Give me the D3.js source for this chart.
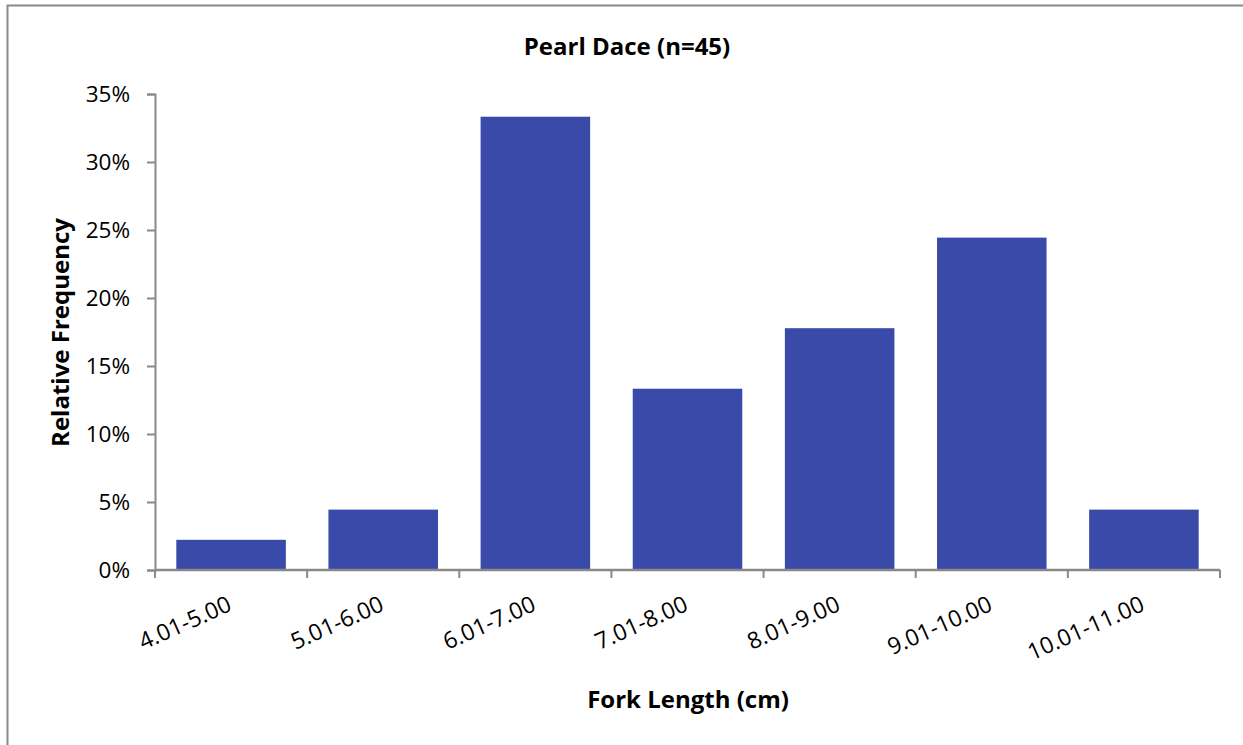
<!DOCTYPE html>
<html>
<head>
<meta charset="utf-8">
<script src="https://cdn.jsdelivr.net/npm/d3@7"></script>
<style>
  html, body { margin: 0; padding: 0; background: #fff; }
  svg { display: block; font-family: "Open Sans", "Noto Sans", sans-serif; }
</style>
</head>
<body>
<svg id="chart" width="1243" height="745"></svg>
<script>
// Fork length classes (cm) and relative frequency (%) of Pearl Dace, n = 45
const categories = ["4.01-5.00", "5.01-6.00", "6.01-7.00", "7.01-8.00", "8.01-9.00", "9.01-10.00", "10.01-11.00"];
const frequency = [2.22, 4.44, 33.33, 13.33, 17.78, 24.44, 4.44];
const yTicks = [0, 5, 10, 15, 20, 25, 30, 35];

const svg = d3.select("#chart");
const W = 1243, H = 745;
const margin = { left: 155, right: 23, top: 94, bottom: 175 };
const x0 = margin.left, x1 = W - margin.right;
const yTop = margin.top, yBot = H - margin.bottom;
const FONT = "'Open Sans', 'Noto Sans', sans-serif";

// outer frame of the chart area
svg.append("path")
  .attr("d", `M7.5,${H} V5.5 H${W}`)
  .attr("fill", "none")
  .attr("stroke", "#898989")
  .attr("stroke-width", 2);

const x = d3.scaleBand()
  .domain(categories)
  .range([x0, x1])
  .paddingInner(0.28)
  .paddingOuter(0.14);

const y = d3.scaleLinear()
  .domain([0, 35])
  .range([yBot, yTop]);

// bars
svg.append("g")
  .selectAll("rect")
  .data(categories)
  .join("rect")
  .attr("x", d => x(d))
  .attr("width", x.bandwidth())
  .attr("y", (d, i) => y(frequency[i]))
  .attr("height", (d, i) => y(0) - y(frequency[i]))
  .attr("fill", "#3a4aa9");

// y axis
const yAxis = svg.append("g")
  .attr("transform", `translate(${x0},0)`)
  .call(d3.axisLeft(y).tickValues(yTicks).tickFormat(d => d + "%").tickSize(8).tickPadding(17));
yAxis.select(".domain").attr("stroke", "#898989").attr("stroke-width", 2);
yAxis.selectAll(".tick line").attr("stroke", "#898989").attr("stroke-width", 2);
yAxis.selectAll(".tick text")
  .attr("font-size", 22.5)
  .attr("font-family", FONT)
  .attr("fill", "#000");

// x axis: ticks at category boundaries
const step = x.step();
const boundaries = d3.range(categories.length + 1).map(i => x0 + i * step);
const xAxisG = svg.append("g");
xAxisG.append("line")
  .attr("x1", x0).attr("x2", x1)
  .attr("y1", yBot).attr("y2", yBot)
  .attr("stroke", "#898989").attr("stroke-width", 2.5);
xAxisG.selectAll("line.tick")
  .data(boundaries)
  .join("line")
  .attr("class", "tick")
  .attr("x1", d => d).attr("x2", d => d)
  .attr("y1", yBot).attr("y2", yBot + 8)
  .attr("stroke", "#898989").attr("stroke-width", 2);

// rotated category labels
xAxisG.selectAll("text")
  .data(categories)
  .join("text")
  .attr("transform", d => `translate(${x(d) + x.bandwidth() / 2 + 2},${yBot + 40}) rotate(-24)`)
  .attr("text-anchor", "end")
  .attr("font-size", 23)
  .attr("fill", "#000")
  .text(d => d);

// title and axis titles
svg.append("text")
  .attr("x", 627).attr("y", 54.5)
  .attr("text-anchor", "middle")
  .attr("font-size", 24).attr("font-weight", "bold")
  .text("Pearl Dace (n=45)");

svg.append("text")
  .attr("x", 688).attr("y", 708)
  .attr("text-anchor", "middle")
  .attr("font-size", 24).attr("font-weight", "bold")
  .text("Fork Length (cm)");

svg.append("text")
  .attr("transform", `translate(69,332.5) rotate(-90)`)
  .attr("text-anchor", "middle")
  .attr("font-size", 24).attr("font-weight", "bold")
  .text("Relative Frequency");
</script>
</body>
</html>
